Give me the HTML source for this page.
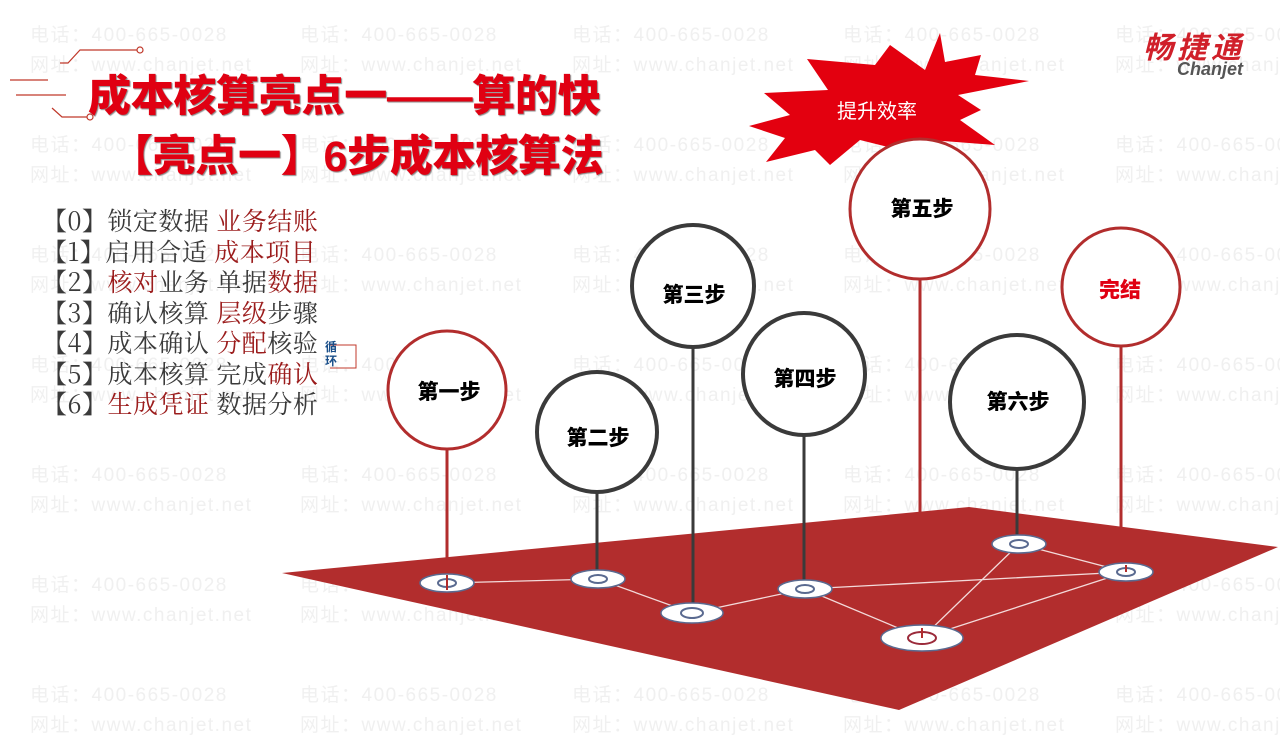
<!DOCTYPE html>
<html><head><meta charset="utf-8"><style>
html,body{margin:0;padding:0}
body{width:1280px;height:720px;position:relative;overflow:hidden;background:#fff;font-family:"Liberation Sans","Noto Sans CJK SC",sans-serif}
.wm{position:absolute;color:#f0f0f0;font-size:19px;letter-spacing:1.5px;white-space:nowrap;font-family:"Liberation Sans","Noto Sans CJK SC",sans-serif}
.t{position:absolute;font-weight:900;color:#e00012;font-size:43px;white-space:nowrap;letter-spacing:-0.3px;text-shadow:1px 1px 1px #888}
.list{position:absolute;left:42px;top:205px;font-family:"Noto Serif CJK SC",serif;font-size:25px;line-height:30.5px;color:#3a3a3a;white-space:nowrap;letter-spacing:0.5px}
.r{color:#9b1c1c}
</style></head><body>
<div id="wms"></div>
<script>
var xs=[30,300,572,843,1115],h='';
for(var r=0;r<7;r++){var y=20+r*110;for(var i=0;i<5;i++){h+='<div class="wm" style="left:'+xs[i]+'px;top:'+y+'px">电话：400-665-0028</div><div class="wm" style="left:'+xs[i]+'px;top:'+(y+30)+'px">网址：www.chanjet.net</div>';}}
document.getElementById('wms').innerHTML=h;
</script>
<svg width="1280" height="720" style="position:absolute;left:0;top:0">
<g stroke="#c0392b" stroke-width="1.2" fill="none">
<polyline points="60,63 68,63 80,50 112,50 138,50"/><circle cx="140" cy="50" r="3" fill="#fff"/>
<line x1="10" y1="80" x2="48" y2="80"/><line x1="16" y1="95" x2="66" y2="95"/>
<polyline points="52,108 62,117 88,117"/><circle cx="90" cy="117" r="3" fill="#fff"/>
</g>
<g stroke-width="3" stroke="#b22d2d">
<line x1="447" y1="450" x2="447" y2="583"/>
<line x1="920" y1="280" x2="920" y2="638"/>
<line x1="1121" y1="347" x2="1121" y2="572"/>
</g>
<polygon points="282,573 969,507 1278,547 899,710" fill="#b22d2d"/>
<g stroke="#f3dada" stroke-width="1.3" fill="none">
<polyline points="447,583 598,579 692,613 805,589 1126,572 922,638 805,589"/>
<line x1="1019" y1="544" x2="1126" y2="572"/><line x1="1019" y1="544" x2="922" y2="638"/>
</g>
<polygon points="940,33 925,70 890,45 875,65 807,59 828,90 764,93 790,115 749,126 785,138 766,162 815,150 830,165 860,140 900,150 930,140 995,145 960,120 981,110 958,95 1029,81 975,75 981,55 945,62" fill="#e3000f"/>
<g stroke-width="3" fill="none">
<line x1="597" y1="493" x2="597" y2="579" stroke="#3a3a3a"/>
<line x1="693" y1="347" x2="693" y2="613" stroke="#3a3a3a"/>
<line x1="804" y1="435" x2="804" y2="589" stroke="#3a3a3a"/>
<line x1="1017" y1="469" x2="1017" y2="544" stroke="#3a3a3a"/>
<circle cx="447" cy="390" r="59" stroke="#b22d2d" fill="#fff"/>
<circle cx="597" cy="432" r="60" stroke="#3a3a3a" stroke-width="4" fill="#fff"/>
<circle cx="693" cy="286" r="61" stroke="#3a3a3a" stroke-width="4" fill="#fff"/>
<circle cx="804" cy="374" r="61" stroke="#3a3a3a" stroke-width="4" fill="#fff"/>
<circle cx="920" cy="209" r="70" stroke="#b22d2d" fill="#fff"/>
<circle cx="1017" cy="402" r="67" stroke="#3a3a3a" stroke-width="4" fill="#fff"/>
<circle cx="1121" cy="287" r="59" stroke="#b22d2d" fill="#fff"/>
</g>
<g fill="#fff" stroke="#5a6a90" stroke-width="1.5">
<ellipse cx="447" cy="583" rx="27" ry="9"/><ellipse cx="598" cy="579" rx="27" ry="9"/>
<ellipse cx="692" cy="613" rx="31" ry="10"/><ellipse cx="805" cy="589" rx="27" ry="9"/>
<ellipse cx="922" cy="638" rx="41" ry="13"/><ellipse cx="1019" cy="544" rx="27" ry="9"/>
<ellipse cx="1126" cy="572" rx="27" ry="9"/>
</g>
<g fill="none" stroke="#5a6a90" stroke-width="2">
<ellipse cx="447" cy="583" rx="9" ry="4"/><ellipse cx="598" cy="579" rx="9" ry="4"/>
<ellipse cx="692" cy="613" rx="11" ry="5"/><ellipse cx="805" cy="589" rx="9" ry="4"/>
<ellipse cx="922" cy="638" rx="14" ry="6" stroke="#9b2a3a"/><ellipse cx="1019" cy="544" rx="9" ry="4"/>
<ellipse cx="1126" cy="572" rx="9" ry="4"/>
</g>
<g stroke="#b22d2d" stroke-width="2"><line x1="447" y1="575" x2="447" y2="590"/><line x1="922" y1="628" x2="922" y2="638"/><line x1="1126" y1="565" x2="1126" y2="572"/></g>
<g font-family="Liberation Sans,Noto Sans CJK SC,sans-serif" font-weight="900" font-size="21" text-anchor="middle" fill="#000">
<text x="449" y="399">第一步</text><text x="598" y="445">第二步</text><text x="694" y="302">第三步</text>
<text x="805" y="386">第四步</text><text x="922" y="216">第五步</text><text x="1018" y="409">第六步</text>
<text x="1120" y="297" fill="#e00012">完结</text>
</g>
<text x="877" y="118" text-anchor="middle" font-size="20" fill="#fff" font-family="Liberation Sans,Noto Sans CJK SC,sans-serif">提升效率</text>
<polyline points="330,345 356,345 356,368 330,368" fill="none" stroke="#c0392b" stroke-width="1"/>
<text x="1245" y="58" text-anchor="end" font-size="30" font-style="italic" font-weight="bold" fill="#d0202a" font-family="Noto Sans CJK SC,sans-serif" letter-spacing="4">畅捷通</text>
<text x="1243" y="75" text-anchor="end" font-size="18" font-style="italic" font-weight="bold" fill="#555" font-family="Liberation Sans,sans-serif">Chanjet</text>
</svg>
<div class="t" style="left:88px;top:62px">成本核算亮点一——算的快</div>
<div class="t" style="left:110px;top:122px">【亮点一】6步成本核算法</div>
<div class="list">
【0】锁定数据 <span class="r">业务结账</span><br>
【1】启用合适 <span class="r">成本项目</span><br>
【2】<span class="r">核对</span>业务 单据<span class="r">数据</span><br>
【3】确认核算 <span class="r">层级</span>步骤<br>
【4】成本确认 <span class="r">分配</span>核验<br>
【5】成本核算 完成<span class="r">确认</span><br>
【6】<span class="r">生成凭证</span> 数据分析
</div>
<div style="position:absolute;left:325px;top:340px;font-size:12px;line-height:14px;color:#1a4f8a;font-weight:bold;width:14px">循环</div>
</body></html>
